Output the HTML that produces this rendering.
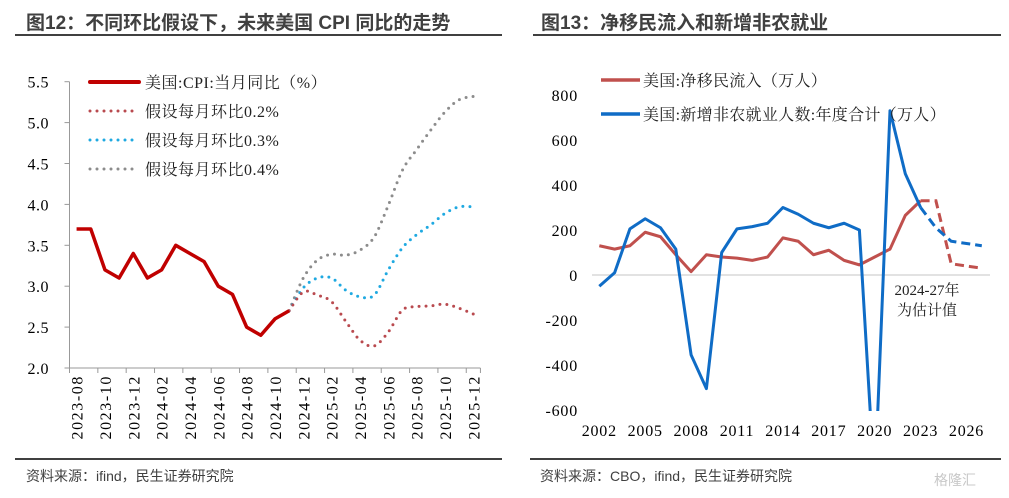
<!DOCTYPE html>
<html><head><meta charset="utf-8">
<style>
html,body{margin:0;padding:0;background:#fff;}
body{width:1009px;height:498px;overflow:hidden;position:relative;font-family:"Liberation Sans","Noto Sans CJK SC",sans-serif;}
.title{position:absolute;top:8px;font-size:19px;font-weight:bold;color:#404040;font-family:"Liberation Sans","Noto Sans CJK SC",sans-serif;}
.foot{position:absolute;top:466px;font-size:14px;color:#404040;}
svg text{font-family:"Liberation Serif","Noto Serif CJK SC",serif;}
</style></head><body>
<div class="title" style="left:26px">图12：不同环比假设下，未来美国 CPI 同比的走势</div>
<div class="title" style="left:541px">图13：净移民流入和新增非农就业</div>
<div class="foot" style="left:26px">资料来源：ifind，民生证券研究院</div>
<div class="foot" style="left:540px">资料来源：CBO，ifind，民生证券研究院</div>
<div style="position:absolute;left:934px;top:470px;font-size:14px;color:#c8c8c8;">格隆汇</div>
<svg id="svg" width="1009" height="498" style="position:absolute;left:0;top:0">
<line x1="15" y1="35" x2="502" y2="35" stroke="#404040" stroke-width="2"/>
<line x1="533" y1="35" x2="1001" y2="35" stroke="#404040" stroke-width="2"/>
<line x1="15" y1="459" x2="502" y2="459" stroke="#404040" stroke-width="2"/>
<line x1="530" y1="459" x2="1001" y2="459" stroke="#404040" stroke-width="2"/>
<g id="left"></g><g id="right"></g>
<defs><clipPath id="rclip"><rect x="580" y="60" width="420" height="351"/></clipPath></defs>
</svg>
<script>
// ---- Left chart data ----
const months = ["2023-08","2023-09","2023-10","2023-11","2023-12","2024-01","2024-02","2024-03","2024-04","2024-05","2024-06","2024-07","2024-08","2024-09","2024-10","2024-11","2024-12","2025-01","2025-02","2025-03","2025-04","2025-05","2025-06","2025-07","2025-08","2025-09","2025-10","2025-11","2025-12"];
const cpiActual = [3.7,3.7,3.2,3.1,3.4,3.1,3.2,3.5,3.4,3.3,3.0,2.9,2.5,2.4,2.6,2.7];
const scen02 = [2.7,2.93,2.89,2.81,2.57,2.34,2.27,2.44,2.71,2.75,2.76,2.78,2.73,2.66];
const scen03 = [2.7,2.98,3.1,3.1,2.95,2.87,2.89,3.2,3.47,3.63,3.75,3.89,3.97,3.97];
const scen04 = [2.7,3.1,3.32,3.39,3.38,3.44,3.6,3.99,4.42,4.67,4.91,5.13,5.28,5.32];
const leftTicks = [2.0,2.5,3.0,3.5,4.0,4.5,5.0,5.5];
// ---- Right chart data ----
const years = [2002,2003,2004,2005,2006,2007,2008,2009,2010,2011,2012,2013,2014,2015,2016,2017,2018,2019,2020,2021,2022,2023,2024,2025,2026,2027];
const immigration = [130,115,130,190,170,90,15,90,80,75,65,80,165,150,90,110,65,45,80,115,265,330,330,50,40,30];
const payrolls = [-50,10,205,250,210,115,-355,-505,100,205,215,230,300,270,230,210,230,200,-940,730,450,300,210,150,140,130];
const rightTicks = [-600,-400,-200,0,200,400,600,800];
const yearLabels = [2002,2005,2008,2011,2014,2017,2020,2023,2026];
const estStartYear = 2023;

const NS="http://www.w3.org/2000/svg";
function mk(parent,tag,attrs,text){const e=document.createElementNS(NS,tag);for(const k in attrs)e.setAttribute(k,attrs[k]);if(text!==undefined)e.textContent=text;parent.appendChild(e);return e;}

// Left
const L=document.getElementById('left');
const lx0=69.5, lstep=14.17;
const lxc=i=>lx0+lstep*(i+0.5);
const ly=v=>368-(v-2.0)*81.8;
mk(L,'line',{x1:lx0,y1:ly(5.5),x2:lx0,y2:368,stroke:'#999','stroke-width':1});
mk(L,'line',{x1:lx0,y1:368,x2:lx0+lstep*months.length,y2:368,stroke:'#999','stroke-width':1});
leftTicks.forEach(t=>{
  const y=ly(t);
  const tk=mk(L,'line',{x1:lx0-5,y1:y,x2:lx0,y2:y,stroke:'#999'});
  
  const tx=mk(L,'text',{x:49,y:y+6,'text-anchor':'end','font-size':16,'letter-spacing':0.5,fill:'#000'},t.toFixed(1));
  
});
months.forEach((m,i)=>{
  if(i%2===0){
    mk(L,'line',{x1:lx0+lstep*i,y1:368,x2:lx0+lstep*i,y2:373,stroke:'#999'});
    const x=lxc(i);
    const tx=mk(L,'text',{x:0,y:0,'text-anchor':'end','font-size':16,'letter-spacing':1.6,fill:'#000',transform:`translate(${x+6},375) rotate(-90)`},m);
    
  }
});
mk(L,'line',{x1:lx0+lstep*months.length,y1:368,x2:lx0+lstep*months.length,y2:373,stroke:'#999'});
function smoothPath(pts){let d=`M${pts[0][0]},${pts[0][1]}`;for(let i=0;i<pts.length-1;i++){const p0=pts[i-1]||pts[i],p1=pts[i],p2=pts[i+1],p3=pts[i+2]||p2;d+=` C${p1[0]+(p2[0]-p0[0])/6},${p1[1]+(p2[1]-p0[1])/6} ${p2[0]-(p3[0]-p1[0])/6},${p2[1]-(p3[1]-p1[1])/6} ${p2[0]},${p2[1]}`;}return d;}
const off=cpiActual.length-1;
[[scen04,'#8c8c8c','scenario-0.4-line'],[scen03,'#1fa9e1','scenario-0.3-line'],[scen02,'#b94a4f','scenario-0.2-line']].forEach(([s,c,n])=>{
  const p=mk(L,'path',{d:smoothPath(s.map((v,i)=>[lxc(i+off),ly(v)])),fill:'none',stroke:c,'stroke-width':3,'stroke-dasharray':'0 7','stroke-linecap':'round'});
  
});
const cp=mk(L,'polyline',{points:cpiActual.map((v,i)=>`${lxc(i)},${ly(v)}`).join(' '),fill:'none',stroke:'#c00000','stroke-width':3.5,'stroke-linejoin':'round'});

// left legend
const lg=[['美国:CPI:当月同比（%）','#c00000',null],['假设每月环比0.2%','#b94a4f','0 7'],['假设每月环比0.3%','#1fa9e1','0 7'],['假设每月环比0.4%','#8c8c8c','0 7']];
lg.forEach(([t,c,da],i)=>{
  const y=82+i*29;
  const g=mk(L,'g',{});
  
  const a={x1:90,y1:y,x2:139,y2:y,stroke:c,'stroke-width':da?3:4,'stroke-linecap':'round'};
  if(da)a['stroke-dasharray']=da;
  mk(g,'line',a);
  mk(g,'text',{x:145,y:y+6,'font-size':16,'letter-spacing':0.5,fill:'#222'},t);
});

// Right
const R=document.getElementById('right');
const rx=y=>599.3+(y-2002)*15.3;
const ry=v=>275-v*0.225;
const z=mk(R,'line',{x1:592,y1:ry(0),x2:990,y2:ry(0),stroke:'#d9d9d9','stroke-width':1.5});

rightTicks.forEach(t=>{
  const tx=mk(R,'text',{x:578,y:ry(t)+6,'text-anchor':'end','font-size':16,'letter-spacing':0.8,fill:'#000'},String(t));
  
});
yearLabels.forEach(y=>{
  const tx=mk(R,'text',{x:rx(y),y:436,'text-anchor':'middle','font-size':16,'letter-spacing':0.8,fill:'#000'},String(y));
  
});
const cg=mk(R,'g',{'clip-path':'url(#rclip)'});
const k=years.indexOf(estStartYear);
[[immigration,'#c0504d','immigration'],[payrolls,'#0f6cc6','payrolls']].forEach(([s,c,n])=>{
  const pts=s.map((v,i)=>`${rx(years[i])},${ry(v)}`);
  const a=mk(cg,'polyline',{points:pts.slice(0,k+1).join(' '),fill:'none',stroke:c,'stroke-width':3,'stroke-linejoin':'round'});
  
  const b=mk(cg,'polyline',{points:pts.slice(k).join(' '),fill:'none',stroke:c,'stroke-width':3,'stroke-dasharray':'9 5'});
  
});
const rl=[['美国:净移民流入（万人）','#c0504d'],['美国:新增非农就业人数:年度合计（万人）','#0f6cc6']];
rl.forEach(([t,c],i)=>{
  const y=80+i*34;
  const g=mk(R,'g',{});
  
  mk(g,'line',{x1:601,y1:y,x2:640,y2:y,stroke:c,'stroke-width':3.5});
  mk(g,'text',{x:643,y:y+6,'font-size':16,'letter-spacing':0.3,fill:'#222'},t);
});
const n1=mk(R,'text',{x:927,y:295,'text-anchor':'middle','font-size':15,fill:'#222'},'2024-27年');

const n2=mk(R,'text',{x:927,y:315,'text-anchor':'middle','font-size':15,fill:'#222'},'为估计值');

</script>
</body></html>
